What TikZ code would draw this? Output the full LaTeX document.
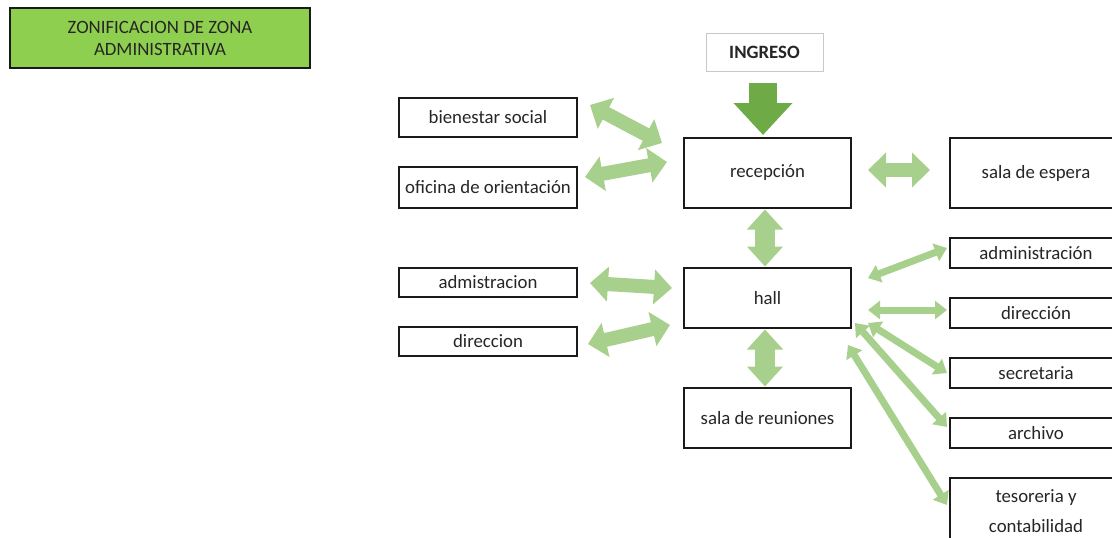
\documentclass[tikz,border=0pt]{standalone}
\usepackage{fontspec}
\setmainfont{Carlito}
\usepackage{tikz}
\usetikzlibrary{arrows.meta}
\usetikzlibrary{positioning}
\definecolor{myblack}{HTML}{1A1A1A}
\definecolor{mytext}{HTML}{262626}
\definecolor{titlegreen}{HTML}{8FCF50}
\definecolor{darkgreen}{HTML}{6EAA46}
\definecolor{lightgreen}{HTML}{A8D08D}
\definecolor{mygrey}{HTML}{C8C8C8}
\tikzset{x=1pt, y=-1pt, node distance=30pt, every text node part/.style={align=center, font={\fontsize{18.8}{22}\selectfont}}}
\tikzstyle{block} = [draw=myblack, fill=white, text=mytext, line width=1.6pt, inner sep=0pt, outer sep=0pt]
\tikzstyle{leftbox} = [block, minimum width=178pt]
\tikzstyle{midbox} = [block, minimum width=167pt, minimum height=60pt]
\tikzstyle{rightbox} = [block, minimum width=172pt, minimum height=30pt]
\tikzstyle{ln} = [draw=lightgreen, line width=14pt, arrows={Triangle[length=18pt,width=34pt]-Triangle[length=18pt,width=34pt]}]
\tikzstyle{lnv} = [draw=lightgreen, line width=20pt, shorten <=1.5pt, shorten >=1.5pt, arrows={Triangle[length=20pt,width=35pt]-Triangle[length=20pt,width=35pt]}]
\tikzstyle{lnthin} = [draw=lightgreen, line width=7pt, arrows={Triangle[length=12pt,width=18pt]-Triangle[length=12pt,width=18pt]}]
\tikzstyle{lnin} = [draw=darkgreen, line width=28pt, shorten <=12pt, shorten >=3pt, arrows={-Triangle[length=32pt,width=57pt]}]

\begin{document}
\begin{tikzpicture}
  \useasboundingbox (0,0) rectangle (1112,538);
  \clip (0,0) rectangle (1112,538);
  \node[block, fill=titlegreen, minimum width=300pt, minimum height=60pt] (titulo) at (160,38) {ZONIFICACION DE ZONA\\ADMINISTRATIVA};
  \node[block, draw=mygrey, line width=0.8pt, minimum width=117pt, minimum height=38pt] (ingreso) at (764.5,52) {\bfseries INGRESO};
  \node[midbox, minimum height=70pt] (recepcion) at (767.5,173) {recepción};
  \node[midbox, below=60pt of recepcion] (hall) {hall};
  \node[midbox, below=60pt of hall] (sala-reuniones) {sala de reuniones};
  \node[rightbox, minimum height=70pt, right=99pt of recepcion] (sala-espera) {sala de espera};
  \node[rightbox, below=of sala-espera] (administracion) {administración};
  \node[rightbox, below=of administracion] (direccion-2) {dirección};
  \node[rightbox, below=of direccion-2] (secretaria) {secretaria};
  \node[rightbox, below=of secretaria] (archivo) {archivo};
  \node[rightbox, below=of archivo, minimum height=66pt] (tesoreria) {tesoreria y\\[8pt]contabilidad};
  \node[leftbox, minimum height=39pt] (bienestar) at (488,117.5) {bienestar social};
  \node[leftbox, minimum height=41pt, below=of bienestar] (oficina) {oficina de orientación};
  \node[leftbox, minimum height=29pt, below=60pt of oficina] (admistracion) {admistracion};
  \node[leftbox, minimum height=29pt, below=of admistracion] (direccion-1) {direccion};
  \path[lnin] ([xshift=-1.5pt]ingreso.south) -- ([xshift=-4.5pt]recepcion.north);
  \path[ln] ([shift={(13,-12.5)}]bienestar.east) -- ([shift={(-22,5)}]recepcion.north west);
  \path[ln] ([shift={(8,-10.5)}]oficina.east) -- ([shift={(-17,-11)}]recepcion.west);
  \path[ln] ([shift={(17,-3)}]recepcion.east) -- ([shift={(-20,-3)}]sala-espera.west);
  \path[lnv] ([xshift=-2.5pt]recepcion.south) -- ([xshift=-2.5pt]hall.north);
  \path[ln] ([shift={(13,0.5)}]admistracion.east) -- ([shift={(-12,-10)}]hall.west);
  \path[ln] ([shift={(11,2.5)}]direccion-1.east) -- ([shift={(-14,27)}]hall.west);
  \path[lnv] ([xshift=-2.5pt]hall.south) -- ([xshift=-2.5pt]sala-reuniones.north);
  \path[lnthin] ([shift={(17,-20)}]hall.east) -- ([shift={(-3,-5)}]administracion.west);
  \path[lnthin] ([shift={(17,12)}]hall.east) -- ([shift={(-3,-3)}]direccion-2.west);
  \path[lnthin] ([shift={(17,25)}]hall.east) -- ([shift={(-3,0)}]secretaria.west);
  \path[lnthin] ([shift={(4,25)}]hall.east) -- ([shift={(-3,-6)}]archivo.west);
  \path[lnthin] ([shift={(-3,47)}]hall.east) -- ([shift={(-3,-6)}]tesoreria.west);
\end{tikzpicture}
\end{document}
